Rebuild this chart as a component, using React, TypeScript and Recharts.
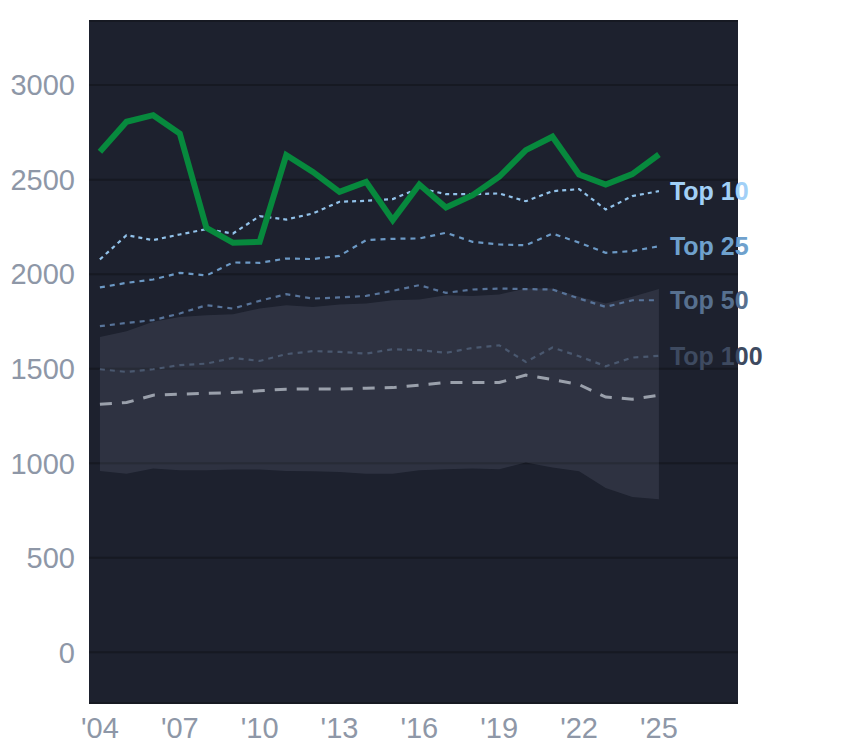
import { ComposedChart, Line, Area, XAxis, YAxis, CartesianGrid, LabelList } from 'recharts';

const FONT = '"Liberation Sans", Arial, sans-serif';

const years = [2004, 2005, 2006, 2007, 2008, 2009, 2010, 2011, 2012, 2013, 2014, 2015, 2016, 2017, 2018, 2019, 2020, 2021, 2022, 2023, 2024, 2025];
const xTicks = [2004, 2007, 2010, 2013, 2016, 2019, 2022, 2025];
const yTicks = [0, 500, 1000, 1500, 2000, 2500, 3000];

const selected = [2647, 2806, 2841, 2744, 2245, 2166, 2171, 2630, 2541, 2435, 2488, 2286, 2474, 2353, 2418, 2515, 2656, 2727, 2527, 2474, 2529, 2633];
const top10 = [2078, 2206, 2180, 2210, 2238, 2215, 2307, 2289, 2321, 2383, 2388, 2397, 2455, 2423, 2423, 2427, 2386, 2439, 2450, 2342, 2413, 2439];
const top25 = [1930, 1954, 1972, 2007, 1993, 2062, 2060, 2083, 2080, 2097, 2180, 2187, 2189, 2219, 2171, 2157, 2153, 2215, 2167, 2113, 2122, 2148];
const top50 = [1725, 1742, 1757, 1792, 1836, 1818, 1859, 1894, 1871, 1877, 1885, 1912, 1942, 1901, 1919, 1924, 1921, 1919, 1871, 1827, 1862, 1862];
const top100 = [1497, 1483, 1497, 1519, 1527, 1557, 1541, 1577, 1593, 1589, 1580, 1603, 1598, 1584, 1610, 1624, 1536, 1612, 1566, 1513, 1559, 1568];
const median = [1312, 1321, 1360, 1365, 1370, 1374, 1383, 1392, 1393, 1392, 1397, 1400, 1413, 1427, 1427, 1427, 1466, 1443, 1416, 1350, 1339, 1360];
const bandHigh = [1668, 1698, 1748, 1774, 1783, 1788, 1818, 1836, 1827, 1840, 1845, 1862, 1866, 1889, 1885, 1893, 1924, 1924, 1880, 1845, 1880, 1921];
const bandLow = [959, 945, 972, 963, 963, 967, 967, 959, 958, 954, 945, 945, 963, 968, 972, 968, 1004, 977, 958, 869, 822, 810];

const data = years.map((year, i) => ({
  year,
  selected: selected[i],
  top10: top10[i],
  top25: top25[i],
  top50: top50[i],
  top100: top100[i],
  median: median[i],
  band: [bandLow[i], bandHigh[i]],
}));

const TICK = { fill: '#8e97a7', fontSize: 29, fontFamily: FONT };

const endLabel = (text: string, color: string) => (props: any) => {
  if (props.index !== years.length - 1) return null;
  return (
    <text x={props.x + 11} y={props.y} dy="0.35em" fill={color} fontSize={25} fontWeight="bold" fontFamily={FONT}>
      {text}
    </text>
  );
};

const tiers = [
  { key: 'top100', label: 'Top 100', line: '#4a586f', text: '#3e4a60', dash: '5 5' },
  { key: 'top50', label: 'Top 50', line: '#58749a', text: '#57708f', dash: '5 5' },
  { key: 'top25', label: 'Top 25', line: '#6c99c5', text: '#6fa1cd', dash: '5 5' },
  { key: 'top10', label: 'Top 10', line: '#92c2ea', text: '#a2d0f7', dash: '4 4' },
];

export default function App() {
  return (
    <ComposedChart width={836} height={740} data={data} margin={{ top: 13, right: 106, bottom: 0, left: 0 }}>
      <CartesianGrid fill="#1d212e" stroke="#161922" strokeWidth={2} vertical={false} />
      <XAxis dataKey="year" type="number" domain={[2003.59, 2027.97]} allowDataOverflow ticks={xTicks}
        tickFormatter={(v) => "'" + String(v).slice(2)} axisLine={false} tickLine={false}
        tickSize={0} tickMargin={14} height={45} tick={TICK} interval={0} />
      <YAxis type="number" domain={[-268, 3339]} allowDataOverflow ticks={yTicks} axisLine={false}
        tickLine={false} tickSize={0} tickMargin={14} width={81} tick={TICK} interval={0} />
      <Area dataKey="band" type="linear" stroke="none" fill="#c8d2ea" fillOpacity={0.1} isAnimationActive={false}
        dot={false} activeDot={false} />
      <Line dataKey="median" type="linear" stroke="#9aa0ab" strokeWidth={3} strokeDasharray="12 10"
        dot={false} activeDot={false} isAnimationActive={false} />
      {tiers.map((t) => (
        <Line key={t.key} dataKey={t.key} type="linear" stroke={t.line} strokeWidth={2.2} strokeDasharray={t.dash}
          dot={false} activeDot={false} isAnimationActive={false}>
          <LabelList dataKey={t.key} content={endLabel(t.label, t.text)} />
        </Line>
      ))}
      <Line dataKey="selected" type="linear" stroke="#07893d" strokeWidth={6} dot={false} activeDot={false}
        isAnimationActive={false} />
    </ComposedChart>
  );
}
